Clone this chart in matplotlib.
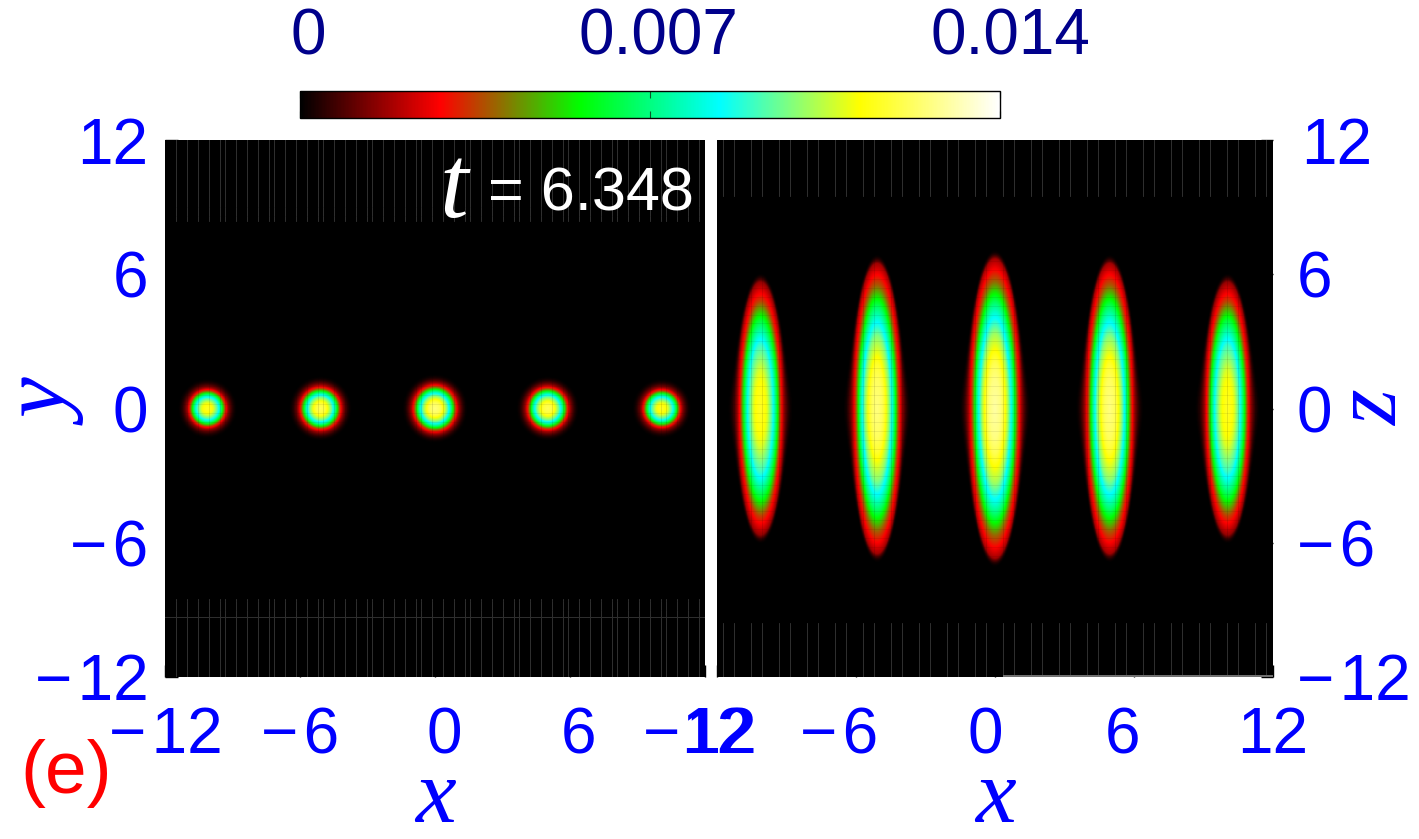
"""Two density panels (x-y and x-z) with a shared colour bar."""
import matplotlib

matplotlib.use("Agg")
import matplotlib.pyplot as plt
import numpy as np
from matplotlib.colors import LinearSegmentedColormap, Normalize
from matplotlib.transforms import ScaledTranslation

W, H = 1419, 839

blob_x_xy = [-10.13, -5.1, 0.0, 5.02, 10.1]
blob_peak_xy = [0.0116, 0.0122, 0.0126, 0.0122, 0.0116]
blob_rx_xy = [0.92, 1.0, 1.06, 1.0, 0.92]
blob_ry_xy = [0.94, 1.05, 1.14, 1.05, 0.94]

blob_x_xz = [-10.14, -5.1, 0.0, 4.96, 10.06]
blob_peak_xz = [0.0116, 0.0126, 0.0130, 0.0126, 0.0116]
blob_rx_xz = [1.01, 1.07, 1.14, 1.07, 1.01]
blob_rz_xz = [5.67, 6.5, 6.7, 6.5, 5.67]

# radial shape inside the red ring, from where the colour bands fall
profile_u = [0.0, 0.2, 0.3, 0.5, 0.7, 0.85, 1.0]
profile_level = [1.0, 0.97, 0.93, 0.78, 0.53, 0.30, 0.14]
# fade to black outside the ring, same width all round (data units past u=1)
tail_d = [0.0, 0.1, 0.2, 0.3, 0.4]
tail_level = [0.14, 0.08, 0.035, 0.01, 0.0]

cbar_positions = [0.0, 0.2, 0.4, 0.6, 0.8, 1.0]
cbar_colors = ["black", "red", "lime", "cyan", "yellow", "white"]
cbar_ticks = [0, 0.007, 0.014]
cbar_labels = ["0", "0.007", "0.014"]

ticks = [-12, -6, 0, 6, 12]
tick_labels = ["\u2212\u200a12", "\u2212\u200a6", "0", "6", "12"]

# faint plot-grid stripes left in the dark corners of the original
stripe_gaps_xy = [11, 11, 11, 11, 5]
stripe_gaps_xz = [11, 17]
stripe_top_xy, stripe_bottom_xy, stripe_row_xy = 8.4, -8.5, -9.3
stripe_top_xz, stripe_bottom_xz = 9.5, -9.6


def make_axes(fig, left, top, right, bottom):
    return fig.add_axes([left / W, 1 - bottom / H, (right - left) / W, (bottom - top) / H])


def density(xs, peaks, rx, ry):
    x = np.linspace(-12, 12, 481)
    xx, yy = np.meshgrid(x, x)
    field = np.zeros_like(xx)
    for x0, peak, a, b in zip(xs, peaks, rx, ry):
        dx, dy = xx - x0, yy
        u = np.maximum(np.hypot(dx / a, dy / b), 1e-9)
        past_edge = np.hypot(dx, dy) * (1 - 1 / u)
        inside = np.interp(u, profile_u, profile_level)
        outside = np.interp(past_edge, tail_d, tail_level)
        field += peak * np.where(u <= 1, inside, outside)
    return field


def stripe_positions(gaps, start_px, px_per_unit, x_zero_px, end_px):
    px = [start_px]
    while px[-1] < end_px - 2:
        px.append(px[-1] + gaps[(len(px) - 1) % len(gaps)])
    return (np.array(px[:-1]) - x_zero_px) / px_per_unit


def draw_stripes(ax, xs, top, bottom):
    for y0, y1 in [(top, 12), (-12, bottom)]:
        ax.vlines(xs, y0, y1, color="#2e2e2e", linewidth=0.7, antialiased=False, zorder=3)
    # same lines dim the blobs a little
    ax.vlines(xs, bottom, top, color="black", alpha=0.10, linewidth=0.7, antialiased=False, zorder=3)
    ax.hlines(np.arange(-9, 9.1, 0.4), -12, 12, color="black", alpha=0.07, linewidth=0.7,
              antialiased=False, zorder=3)


def shift_labels(ax, labels, offsets):
    for label, (dx, dy) in zip(labels, offsets):
        label.set_transform(label.get_transform() + ScaledTranslation(dx / 100, dy / 100, ax.figure.dpi_scale_trans))


def main():
    plt.rcParams["font.family"] = ["Liberation Sans", "DejaVu Sans"]
    cmap = LinearSegmentedColormap.from_list("density", list(zip(cbar_positions, cbar_colors)), N=512)
    norm = Normalize(0, 0.014)
    fig = plt.figure(figsize=(W / 100, H / 100), dpi=100)

    ax_xy = make_axes(fig, 165, 140, 705, 677)
    ax_xz = make_axes(fig, 717, 140, 1273, 677)
    cax = make_axes(fig, 300, 91, 1000, 118)

    panels = [
        (ax_xy, density(blob_x_xy, blob_peak_xy, blob_rx_xy, blob_ry_xy)),
        (ax_xz, density(blob_x_xz, blob_peak_xz, blob_rx_xz, blob_rz_xz)),
    ]
    for ax, field in panels:
        im = ax.imshow(field, origin="lower", extent=(-12, 12, -12, 12), cmap=cmap, norm=norm,
                       aspect="auto", interpolation="bilinear")
        ax.set_xticks(ticks, tick_labels)
        ax.set_yticks(ticks, tick_labels)
        ax.tick_params(axis="both", direction="in", length=9, width=1, color="black", labelsize=46,
                       labelcolor="#0000ff")
        ax.tick_params(axis="x", pad=21)
        ax.tick_params(axis="y", pad=12)
        for spine in ax.spines.values():
            spine.set_visible(False)

    draw_stripes(ax_xy, stripe_positions(stripe_gaps_xy, 176, 22.5, 435, 705), stripe_top_xy, stripe_bottom_xy)
    ax_xy.axhline(stripe_row_xy, color="#2e2e2e", linewidth=0.7, antialiased=False, zorder=3)
    draw_stripes(ax_xz, stripe_positions(stripe_gaps_xz, 723, 23.17, 995, 1273), stripe_top_xz, stripe_bottom_xz)
    ax_xz.hlines(-11.97, 0.35, 12, color="#707070", linewidth=1, antialiased=False, zorder=3)
    for ax in (ax_xy, ax_xz):
        ax.set_xlim(-12, 12)
        ax.set_ylim(-12, 12)

    # x tick labels sit slightly off their ticks in the original
    shift_labels(ax_xy, ax_xy.get_xticklabels(), [(1, 0), (0, 0), (9, 0), (9, 0), (12, 0)])
    shift_labels(ax_xz, ax_xz.get_xticklabels(), [(-17, 0), (-17, 0), (-10, 0), (-12, 0), (0, 0)])
    ax_xz.yaxis.tick_right()
    ax_xz.tick_params(axis="y", direction="in", pad=17)
    shift_labels(ax_xz, ax_xz.get_yticklabels(), [(0, 0), (0, 0), (0, 0), (0, 0), (5, 0)])

    cbar = fig.colorbar(im, cax=cax, orientation="horizontal")
    cbar.set_ticks(cbar_ticks, labels=cbar_labels)
    cax.xaxis.tick_top()
    cax.tick_params(direction="in", length=5, width=0.8, color="#0b5a2a", labelsize=46,
                    labelcolor="#00008b", pad=17, top=True, bottom=True)
    cbar.outline.set_edgecolor("black")
    cbar.outline.set_linewidth(1)
    shift_labels(cax, cax.get_xticklabels(), [(8, 0), (8, 0), (10, 0)])

    math_font = {"family": ["Liberation Serif"], "style": "italic", "color": "#0000ff", "fontsize": 66}
    fig.text(435 / W, 1 - 822 / H, "x", ha="center", va="baseline", **math_font)
    fig.text(995 / W, 1 - 822 / H, "x", ha="center", va="baseline", **math_font)
    fig.text(50 / W, 1 - 405 / H, "y", ha="center", va="center", rotation=90,
             rotation_mode="anchor", **math_font)
    fig.text(1375 / W, 1 - 408 / H, "z", ha="center", va="center", rotation=90,
             rotation_mode="anchor", **math_font)
    fig.text(66 / W, 1 - 773 / H, "(e)", ha="center", va="center", color="red", fontsize=54)

    fig.text(454 / W, 1 - 192 / H, "t", ha="center", va="center", color="white",
             family=["Liberation Serif"], style="italic", fontsize=74)
    fig.text(591 / W, 1 - 195 / H, "= 6.348", ha="center", va="center", color="white", fontsize=44)

    fig.savefig("out.png", dpi=100)
    plt.close(fig)


if __name__ == "__main__":
    main()
